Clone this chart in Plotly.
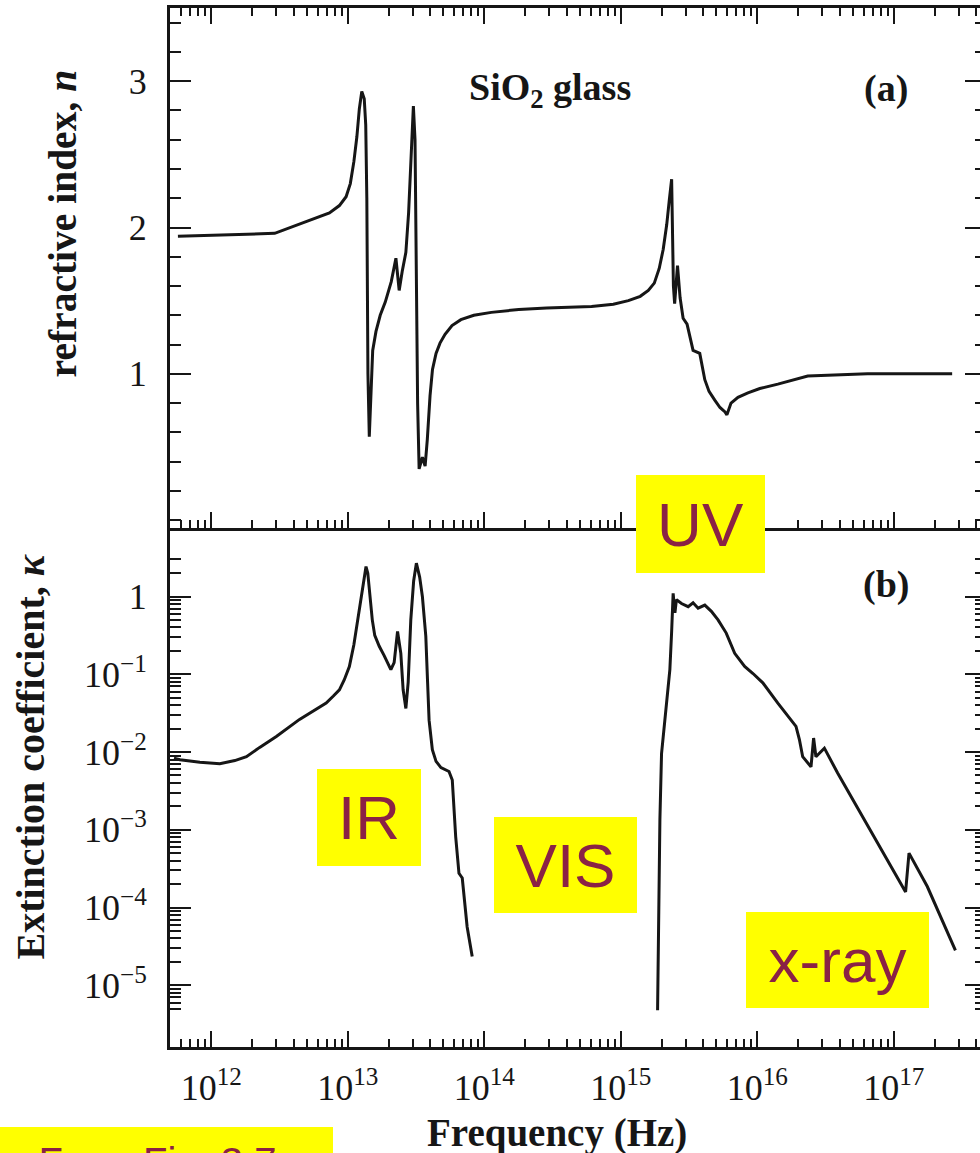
import numpy as np
import plotly.graph_objects as go

# ---- data: log10(frequency / Hz) and optical constants of SiO2 glass ----
# refractive index n
n_log_freq = [11.755, 12.135, 12.464, 12.865, 12.938, 12.987, 13.018, 13.044, 13.066, 13.084,
              13.102, 13.120, 13.131, 13.139, 13.147, 13.157, 13.168, 13.182, 13.206, 13.237,
              13.274, 13.318, 13.352, 13.376, 13.398, 13.425, 13.445, 13.461, 13.480, 13.492,
              13.501, 13.511, 13.522, 13.546, 13.566, 13.582, 13.602, 13.620, 13.646, 13.675,
              13.712, 13.763, 13.828, 13.923, 14.051, 14.252, 14.456, 14.785, 14.945, 15.055,
              15.142, 15.201, 15.245, 15.281, 15.310, 15.336, 15.354, 15.372, 15.385, 15.394,
              15.415, 15.434, 15.456, 15.485, 15.529, 15.578, 15.615, 15.646, 15.688, 15.726,
              15.763, 15.777, 15.807, 15.858, 15.931, 16.018, 16.150, 16.259, 16.369, 16.515,
              16.807, 17.427]
n_values = [1.94, 1.95, 1.96, 2.10, 2.15, 2.21, 2.30, 2.45, 2.62, 2.81,
            2.93, 2.88, 2.70, 2.20, 1.00, 0.57, 0.80, 1.16, 1.29, 1.40,
            1.49, 1.63, 1.79, 1.57, 1.70, 1.83, 2.10, 2.46, 2.83, 2.60,
            1.60, 0.80, 0.35, 0.43, 0.37, 0.55, 0.85, 1.03, 1.14, 1.21,
            1.27, 1.33, 1.37, 1.40, 1.42, 1.44, 1.45, 1.46, 1.475, 1.50,
            1.53, 1.57, 1.62, 1.72, 1.85, 2.02, 2.18, 2.33, 1.60, 1.48,
            1.74, 1.52, 1.38, 1.34, 1.16, 1.14, 0.96, 0.88, 0.82, 0.77,
            0.74, 0.72, 0.80, 0.84, 0.87, 0.90, 0.93, 0.96, 0.985, 0.99,
            1.00, 1.00]

# extinction coefficient, infrared absorption band (log10 kappa)
ir_log_freq = [11.726, 11.770, 11.916, 12.062, 12.172, 12.257, 12.354, 12.476, 12.646, 12.755,
               12.841, 12.894, 12.938, 12.974, 13.011, 13.044, 13.072, 13.099, 13.121, 13.133,
               13.146, 13.161, 13.179, 13.197, 13.230, 13.266, 13.315, 13.339, 13.364, 13.388,
               13.405, 13.425, 13.442, 13.461, 13.482, 13.502, 13.526, 13.546, 13.571, 13.584,
               13.595, 13.619, 13.646, 13.682, 13.741, 13.765, 13.790, 13.814, 13.838, 13.874,
               13.911]
ir_log_kappa = [-2.08, -2.10, -2.13, -2.15, -2.11, -2.06, -1.94, -1.80, -1.58, -1.46,
                -1.37, -1.28, -1.20, -1.07, -0.90, -0.62, -0.30, 0.05, 0.30, 0.386,
                0.30, 0.05, -0.30, -0.50, -0.64, -0.76, -0.94, -0.85, -0.45, -0.73,
                -1.20, -1.44, -1.10, -0.30, 0.20, 0.43, 0.25, 0.0, -0.51, -1.10,
                -1.59, -1.97, -2.12, -2.20, -2.25, -2.36, -3.09, -3.56, -3.62, -4.25,
                -4.63]

# extinction coefficient, UV edge through x-ray (log10 kappa)
uv_log_freq = [15.269, 15.286, 15.298, 15.323, 15.339, 15.359, 15.372, 15.383, 15.396, 15.407,
               15.444, 15.493, 15.529, 15.566, 15.615, 15.663, 15.712, 15.772, 15.834, 15.907,
               15.968, 16.040, 16.150, 16.283, 16.308, 16.332, 16.393, 16.412, 16.429, 16.491,
               16.588, 16.758, 16.953, 17.086, 17.111, 17.245, 17.451]
uv_log_kappa = [-5.32, -2.87, -2.02, -1.59, -1.30, -0.94, -0.45, 0.04, -0.21, -0.04,
                -0.09, -0.13, -0.08, -0.15, -0.11, -0.19, -0.30, -0.47, -0.73, -0.90,
                -0.99, -1.11, -1.37, -1.67, -1.84, -2.06, -2.19, -1.82, -2.06, -1.95,
                -2.27, -2.79, -3.39, -3.80, -3.30, -3.73, -4.55]

assert len(n_log_freq) == len(n_values)
assert len(ir_log_freq) == len(ir_log_kappa)
assert len(uv_log_freq) == len(uv_log_kappa)

freq_tick_exponents = [12, 13, 14, 15, 16, 17]
freq_tick_labels = ["10<sup>12</sup>", "10<sup>13</sup>", "10<sup>14</sup>",
                    "10<sup>15</sup>", "10<sup>16</sup>", "10<sup>17</sup>"]
n_tick_values = [1, 2, 3]
n_tick_labels = ["1", "2", "3"]
kappa_tick_values = [1, 1e-1, 1e-2, 1e-3, 1e-4, 1e-5]
kappa_tick_labels = ["1", "10<sup>\u22121</sup>", "10<sup>\u22122</sup>",
                     "10<sup>\u22123</sup>", "10<sup>\u22124</sup>", "10<sup>\u22125</sup>"]
# minor ticks on the kappa axis: full decades, a few below 1e-5 and 2, 3 above 1
kappa_minor_ticks = ([k * 10.0 ** d for d in range(-5, 0) for k in range(2, 10)]
                     + [k * 1e-6 for k in (5, 6, 7, 8, 9)] + [2, 3])

# spectral region tags: text and box (left, top, right, bottom) in page pixels
band_tags = ["UV", "IR", "VIS", "x-ray"]
band_boxes = [(638, 475, 767, 573), (318, 769, 422, 866),
              (495, 817, 638, 913), (748, 912, 931, 1008)]
source_tag = "From Fig. 3.7"
source_box = (-18, 1127, 333, 1197)

# ---- page geometry ----
FIG_W, FIG_H = 990, 1153
M_L, M_R, M_T, M_B = 170, 1, 8, 106
PLOT_W = FIG_W - M_L - M_R
PLOT_H = FIG_H - M_T - M_B


def px(x):
    return (x - M_L) / PLOT_W


def py(y):
    return (FIG_H - M_B - y) / PLOT_H


INK = "#161616"
SERIF = "Liberation Serif"
SANS = "Liberation Sans"
TAG_COLOR = "#8a2245"
LINE_W = 3

fig = go.Figure()
fig.add_trace(go.Scatter(x=10 ** np.array(n_log_freq), y=n_values, mode="lines",
                         line=dict(color=INK, width=LINE_W), xaxis="x", yaxis="y",
                         showlegend=False, hoverinfo="skip"))
fig.add_trace(go.Scatter(x=10 ** np.array(ir_log_freq), y=10 ** np.array(ir_log_kappa),
                         mode="lines", line=dict(color=INK, width=LINE_W),
                         xaxis="x2", yaxis="y2", showlegend=False, hoverinfo="skip"))
fig.add_trace(go.Scatter(x=10 ** np.array(uv_log_freq), y=10 ** np.array(uv_log_kappa),
                         mode="lines", line=dict(color=INK, width=LINE_W),
                         xaxis="x2", yaxis="y2", showlegend=False, hoverinfo="skip"))

tick_font = dict(family=SERIF, size=36, color=INK)
x_common = dict(type="log", range=[11.697, 17.675], domain=[0, 1], showgrid=False,
                zeroline=False, showline=True, linecolor=INK, linewidth=LINE_W,
                ticks="inside", ticklen=16, tickwidth=2, tickcolor=INK,
                tickmode="array", tickvals=[10.0 ** e for e in freq_tick_exponents],
                ticktext=freq_tick_labels, tickfont=tick_font,
                minor=dict(ticks="inside", ticklen=8, tickwidth=2, tickcolor=INK,
                           dtick="D1", showgrid=False))
y_common = dict(showgrid=False, zeroline=False, showline=True, linecolor=INK,
                linewidth=LINE_W, ticks="inside", ticklen=21, tickwidth=2,
                tickcolor=INK, mirror="allticks", tickfont=tick_font,
                ticklabelstandoff=13)

fig.update_layout(
    width=FIG_W, height=FIG_H,
    margin=dict(l=M_L, r=M_R, t=M_T, b=M_B, pad=0),
    paper_bgcolor="white", plot_bgcolor="white",
    xaxis=dict(x_common, anchor="y", mirror="allticks", showticklabels=False),
    xaxis2=dict(x_common, anchor="y2", mirror=False, ticklabelstandoff=7),
    yaxis=dict(y_common, domain=[0.5, 1], anchor="x", range=[-0.05, 3.5],
               tickmode="array", tickvals=n_tick_values, ticktext=n_tick_labels,
               minor=dict(ticks="inside", ticklen=11, tickwidth=2, tickcolor=INK,
                          tickmode="linear", tick0=0, dtick=0.2, showgrid=False)),
    yaxis2=dict(y_common, domain=[0, 0.5], anchor="x2", type="log",
                range=[-5.794, 0.888], tickmode="array",
                tickvals=kappa_tick_values, ticktext=kappa_tick_labels,
                minor=dict(ticks="inside", ticklen=11, tickwidth=2, tickcolor=INK,
                           tickmode="array", tickvals=kappa_minor_ticks,
                           showgrid=False)),
)

annotations = []


def label(text, x, y, size=38, angle=0):
    annotations.append(dict(text=text, x=px(x), y=py(y), xref="paper", yref="paper",
                            showarrow=False, xanchor="center", yanchor="middle",
                            textangle=angle, font=dict(family=SERIF, size=size, color=INK)))


label("<b>refractive index, <i>n</i></b>", 63, 223, size=39.5, angle=-90)
label("<b>Extinction coefficient, <i>\u03ba</i></b>", 29, 757, size=40, angle=-90)
label("<b>Frequency (Hz)</b>", 558, 1133, size=39)
label("<b>SiO<sub>2</sub> glass</b>", 551, 90)
label("<b>(a)</b>", 889, 88)
label("<b>(b)</b>", 889, 584)


def tag(text, box, size):
    left, top, right, bottom = box
    annotations.append(dict(text=text, x=px((left + right) / 2), y=py((top + bottom) / 2),
                            xref="paper", yref="paper", showarrow=False,
                            xanchor="center", yanchor="middle",
                            width=right - left, height=bottom - top,
                            bgcolor="#ffff00", borderpad=0, borderwidth=0,
                            font=dict(family=SANS, size=size, color=TAG_COLOR)))


for text, box in zip(band_tags, band_boxes):
    tag(text, box, 62)
tag(source_tag, source_box, 40)

fig.update_layout(annotations=annotations)

fig.write_html(
    "out.html",
    config={"displayModeBar": False, "staticPlot": True},
    post_script="document.documentElement.style.overflow='hidden';"
                "document.body.style.overflow='hidden';document.body.style.margin='0';",
)
